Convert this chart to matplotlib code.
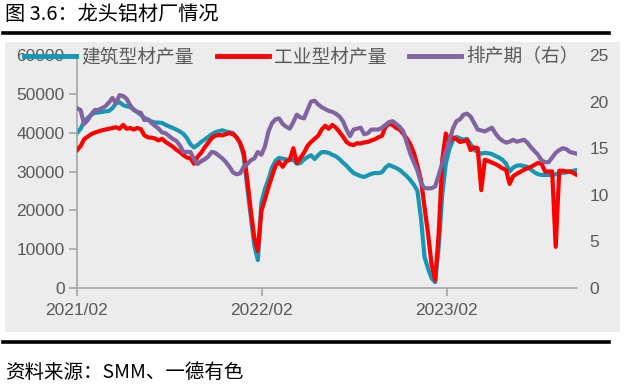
import matplotlib
matplotlib.use("Agg")
import matplotlib.pyplot as plt
from matplotlib.lines import Line2D
from matplotlib.patches import Rectangle
import pandas as pd

plt.rcParams['font.family'] = ['Liberation Sans', 'Noto Sans CJK SC', 'DejaVu Sans']

# ---------------- data ----------------
start_date = '2021-02-01'
n_weeks = 142

building = [
    39900, 41000, 42800, 43800, 44600, 45100, 45200, 45300, 45500, 45600,
    46300, 47600, 47800, 47100, 46800, 46600, 46000, 45300, 44600, 43800,
    43300, 42900, 42600, 42600, 42500, 42000, 41600, 41200, 40800, 40300,
    39700, 38600, 37000, 36200, 36800, 37600, 38200, 38900, 39600, 40100,
    40400, 40600, 40300, 40100, 39900, 38800, 37400, 34000, 26000, 18500,
    11000, 7200, 22000, 25500, 28000, 31000, 32800, 33500, 33300, 33100,
    33000, 33000, 32000, 32200, 33100, 33700, 34200, 33200, 34200, 35000,
    35000, 34800, 34300, 33900, 33200, 32300, 31500, 30500, 29600, 29200,
    28800, 28600, 29000, 29400, 29600, 29600, 29800, 31000, 31700, 31300,
    30900, 30400, 29600, 28800, 27800, 26600, 25000, 18000, 8000, 5000,
    2500, 1500, 10600, 24000, 32000, 35800, 38000, 38900, 38500, 38200,
    38400, 37000, 35600, 35000, 34600, 34800, 34700, 34500, 34000, 33600,
    33000, 32000, 30000, 31000, 31500, 31600, 31400, 31200, 30500, 29800,
    29300, 29100, 29100, 29100, 29100, 29300, 29600, 29600, 29800, 30000,
    30200, 30400,
]

industrial = [
    35500, 36500, 38300, 39000, 39600, 40000, 40300, 40600, 40800, 41000,
    41200, 41400, 41000, 42000, 41000, 41200, 40800, 41200, 40900, 39300,
    38800, 38700, 38500, 38000, 38400, 37600, 37000, 36400, 35600, 35000,
    34200, 33600, 33400, 32000, 33800, 34800, 36200, 37400, 38600, 39200,
    39400, 39300, 39600, 39900, 39600, 38800, 37300, 35000, 28000, 20000,
    13000, 9500, 19800, 22800, 26000, 28800, 31500, 32500, 31200, 32600,
    33000, 36000, 32200, 33500, 34800, 36600, 37600, 38400, 39200, 40800,
    41800, 41000, 42000, 41300, 40200, 39000, 37600, 37000, 36800, 37300,
    37200, 37500, 37600, 38000, 38300, 38800, 39200, 41500, 42300, 42000,
    41200, 40800, 39700, 38500, 37000, 34800, 31500, 27800, 21000, 14000,
    6000, 2000, 14000, 33000, 39800, 37600, 38800, 38300, 37600, 37800,
    38100, 35500, 36200, 36000, 25200, 33000, 32700, 32300, 31900, 31400,
    30800, 30400, 26800, 28800, 29400, 29900, 30400, 30800, 31200, 31700,
    32200, 32000, 30000, 30000, 30000, 10600, 30200, 30200, 30000, 30000,
    29600, 29100,
]

schedule = [
    19.3, 19.1, 17.6, 18.0, 18.6, 19.1, 19.1, 19.3, 19.5, 19.9,
    20.4, 19.8, 20.7, 20.6, 20.3, 19.6, 19.1, 18.9, 18.8, 18.0,
    18.1, 17.7, 17.4, 17.1, 16.7, 16.6, 16.3, 16.0, 15.8, 15.3,
    14.6, 14.6, 14.6, 13.8, 13.3, 13.6, 13.8, 14.1, 14.6, 14.5,
    14.2, 13.9, 13.5, 13.0, 12.4, 12.2, 12.3, 13.0, 13.3, 13.7,
    13.9, 14.6, 14.3, 15.2, 16.8, 17.7, 18.1, 18.2, 17.6, 17.3,
    17.1, 17.8, 18.6, 18.3, 18.2, 19.1, 20.0, 20.1, 19.7, 19.4,
    19.2, 19.0, 18.9, 18.7, 18.4, 17.9, 17.0, 16.3, 17.0, 17.1,
    17.2, 16.5, 16.6, 17.0, 17.0, 17.0, 17.2, 17.5, 17.8, 17.9,
    17.6, 17.3, 16.8, 15.6, 14.4, 13.5, 12.6, 11.3, 10.7, 10.7,
    10.7, 10.9, 12.1, 13.4, 14.6, 15.8, 17.1, 17.9, 18.1, 18.6,
    18.7, 18.4, 17.7, 17.0, 16.9, 16.8, 17.0, 17.2, 16.6, 16.1,
    15.8, 15.6, 15.7, 15.9, 15.7, 15.8, 15.9, 15.6, 15.1, 14.7,
    14.3, 13.7, 13.5, 13.5, 14.0, 14.5, 14.8, 15.0, 14.9, 14.6,
    14.5, 14.4,
]

series_names = ['建筑型材产量', '工业型材产量', '排产期（右）']
left_ticks = [0, 10000, 20000, 30000, 40000, 50000, 60000]
right_ticks = [0, 5, 10, 15, 20, 25]
x_tick_dates = ['2021-02-01', '2022-02-01', '2023-02-01']
x_tick_labels = ['2021/02', '2022/02', '2023/02']
title_text = '图 3.6：龙头铝材厂情况'
source_text = '资料来源：SMM、一德有色'

dates = pd.date_range(start_date, periods=n_weeks, freq='7D')

# ---------------- figure ----------------
W, H = 625, 387
fig = plt.figure(figsize=(W / 100, H / 100), dpi=100)
fig.patch.set_facecolor('white')

def fx(px):
    return px / W

def fy(py):
    return 1 - py / H

cjk = ['Noto Sans CJK SC', 'DejaVu Sans']

# gray panel (behind the axes)
fig.patches.append(Rectangle((fx(5), fy(332)), fx(620) - fx(5), fy(42) - fy(332),
                             transform=fig.transFigure, facecolor='#EDECED',
                             edgecolor='none', zorder=-5))
# black rules
fig.lines.append(Line2D([fx(3), fx(609)], [fy(32.5), fy(32.5)], transform=fig.transFigure,
                        color='black', lw=2.6, zorder=-4))
fig.lines.append(Line2D([fx(3), fx(609)], [fy(342), fy(342)], transform=fig.transFigure,
                        color='black', lw=2.6, zorder=-4))

fig.text(fx(5), fy(14), title_text, fontsize=14.5, color='black', va='center', ha='left',
         family=cjk)
fig.text(fx(5), fy(372), source_text, fontsize=14, color='black', va='center', ha='left',
         family=cjk)

ax = fig.add_axes([fx(77), fy(288), fx(577) - fx(77), fy(55) - fy(288)])
ax.set_facecolor('none')
ax2 = ax.twinx()
ax2.set_facecolor('none')

c_blue = '#1797B4'
c_red = '#FF0000'
c_purple = '#8064A2'
lw = 3.0

l1, = ax.plot(dates, building, color=c_blue, lw=lw, solid_joinstyle='round', zorder=2)
l2, = ax.plot(dates, industrial, color=c_red, lw=lw, solid_joinstyle='round', zorder=3)
l3, = ax2.plot(dates, schedule, color=c_purple, lw=lw, solid_joinstyle='round', zorder=4)

ax.set_ylim(0, 60000)
ax2.set_ylim(0, 25)
ax.set_xlim(dates[0], dates[-1])

gray = '#595959'
spine_gray = '#A6A6A6'
ax.set_yticks(left_ticks)
ax.set_yticklabels([str(v) for v in left_ticks])
ax2.set_yticks(right_ticks)
ax2.set_yticklabels([str(v) for v in right_ticks])
ax.set_xticks(pd.to_datetime(x_tick_dates))
ax.set_xticklabels(x_tick_labels)

for s in ['top', 'right']:
    ax.spines[s].set_visible(False)
for s in ax2.spines.values():
    s.set_visible(False)
ax.spines['left'].set_color(spine_gray)
ax.spines['bottom'].set_color(spine_gray)
ax.spines['left'].set_linewidth(1.2)
ax.spines['bottom'].set_linewidth(1.2)

ax.tick_params(axis='y', direction='out', length=6, width=1.2, color=spine_gray,
               labelcolor=gray, labelsize=12.5, pad=3)
ax.tick_params(axis='x', direction='out', length=6, width=1.2, color=spine_gray,
               labelcolor=gray, labelsize=12.5, pad=5)
ax2.tick_params(axis='y', length=0, labelcolor=gray, labelsize=12.5, pad=9)

leg = fig.legend([l1, l2, l3], series_names, loc='center left',
                 bbox_to_anchor=(fx(24), fy(57)), bbox_transform=fig.transFigure,
                 ncol=3, frameon=False, handlelength=2.77,
                 handletextpad=0.3, columnspacing=1.2, borderpad=0, borderaxespad=0,
                 prop={'family': cjk, 'size': 13.5})
for t in leg.get_texts():
    t.set_color(gray)
for h in leg.legend_handles:
    h.set_linewidth(3.5)

fig.savefig('out.png', dpi=100, facecolor=fig.get_facecolor())
